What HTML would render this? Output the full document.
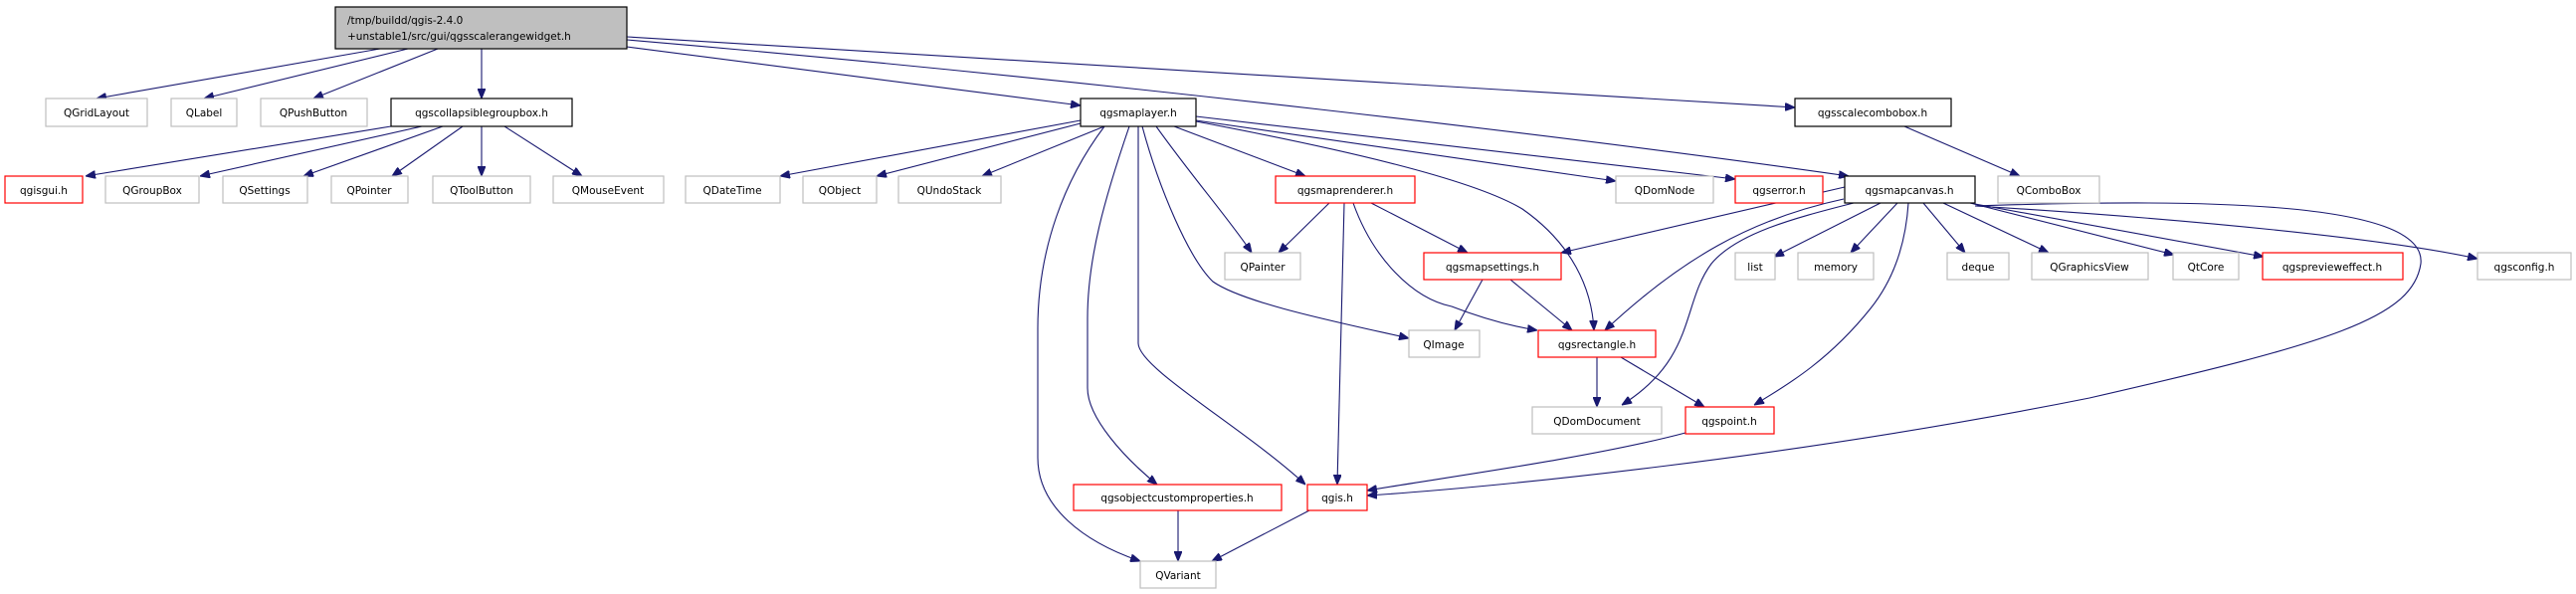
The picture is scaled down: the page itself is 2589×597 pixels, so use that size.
<!DOCTYPE html>
<html><head><meta charset="utf-8"><style>
html,body{margin:0;padding:0;background:#fff;}
svg{display:block;}
text{font-family:"DejaVu Sans","Liberation Sans",sans-serif;font-size:10.5px;fill:#000;}
.e{fill:none;stroke:#191970;stroke-width:1.1;}
.g{fill:#fff;stroke:#bfbfbf;stroke-width:1.2;}
.r{fill:#fff;stroke:#ff0000;stroke-width:1.2;}
.b{fill:#fff;stroke:#000;stroke-width:1.2;}
</style></head><body>
<svg width="2589" height="597" viewBox="0 0 2589 597" xmlns="http://www.w3.org/2000/svg">
<defs><marker id="a" markerWidth="10" markerHeight="8" refX="10" refY="4" orient="auto" markerUnits="userSpaceOnUse"><path d="M0,0 L10,4 L0,8 z" fill="#191970" stroke="#191970"/></marker></defs>
<g marker-end="url(#a)">
<path class="e" d="M382,49 L97,99"/>
<path class="e" d="M410,49 L205,99"/>
<path class="e" d="M440,49 L315,99"/>
<path class="e" d="M484,49 L484,99"/>
<path class="e" d="M630,47 L1086,106"/>
<path class="e" d="M630,37 L1804,108"/>
<path class="e" d="M630,40 C1100,80 1600,140 1858,177"/>
<path class="e" d="M393,127 L86,177"/>
<path class="e" d="M424,127 L201,177"/>
<path class="e" d="M445,127 L305,177"/>
<path class="e" d="M465,127 L394,177"/>
<path class="e" d="M484,127 L484,177"/>
<path class="e" d="M507,127 L585,177"/>
<path class="e" d="M1086,121 L784,177"/>
<path class="e" d="M1086,124 L881,177"/>
<path class="e" d="M1110,127 L987,177"/>
<path class="e" d="M1180,127 L1312,177"/>
<path class="e" d="M1162,127 C1200,180 1235,220 1258,254"/>
<path class="e" d="M1110,127 C1070,180 1043,250 1043,330 L1043,460 C1043,510 1090,545 1146,564"/>
<path class="e" d="M1135,127 C1110,200 1093,260 1093,320 L1093,390 C1093,420 1130,460 1163,487"/>
<path class="e" d="M1144,127 L1144,345 C1144,370 1250,430 1312,487"/>
<path class="e" d="M1148,127 C1165,190 1195,260 1219,283 C1250,305 1350,325 1416,340"/>
<path class="e" d="M1202,122 C1350,150 1480,180 1530,210 C1580,245 1600,290 1602,332"/>
<path class="e" d="M1202,121 L1624,182"/>
<path class="e" d="M1202,117 L1744,180"/>
<path class="e" d="M1336,204 L1285,254"/>
<path class="e" d="M1378,204 L1475,254"/>
<path class="e" d="M1351,204 L1344,487"/>
<path class="e" d="M1360,204 C1380,260 1420,300 1459,308 C1490,320 1520,328 1545,332"/>
<path class="e" d="M1490,281 L1462,332"/>
<path class="e" d="M1518,281 L1580,332"/>
<path class="e" d="M1914,127 L2030,177"/>
<path class="e" d="M1854,188 L1569,254"/>
<path class="e" d="M1853,200 C1760,220 1690,260 1613,332"/>
<path class="e" d="M1863,204 C1800,220 1745,235 1720,265 C1690,305 1705,360 1630,407"/>
<path class="e" d="M1918,204 C1915,250 1900,285 1880,310 C1840,360 1800,385 1763,407"/>
<path class="e" d="M1985,207 C2200,200 2440,200 2433,265 C2425,320 2340,345 2100,400 C1800,460 1500,490 1374,498"/>
<path class="e" d="M1890,204 L1783,258"/>
<path class="e" d="M1907,204 L1860,254"/>
<path class="e" d="M1933,204 L1975,254"/>
<path class="e" d="M1953,204 L2059,254"/>
<path class="e" d="M1980,204 L2185,256"/>
<path class="e" d="M1985,205 L2275,258"/>
<path class="e" d="M1985,207 C2200,220 2400,240 2490,260"/>
<path class="e" d="M1605,359 L1605,409"/>
<path class="e" d="M1629,359 L1713,409"/>
<path class="e" d="M1694,435 C1600,460 1450,480 1374,493"/>
<path class="e" d="M1184,513 L1184,564"/>
<path class="e" d="M1316,513 L1218,564"/>
</g>
<rect x="337" y="7" width="293" height="42" fill="#bfbfbf" stroke="#000" stroke-width="1.2"/>
<text x="349" y="24">/tmp/buildd/qgis-2.4.0</text>
<text x="349" y="40">+unstable1/src/gui/qgsscalerangewidget.h</text>
<g text-anchor="middle">
<rect class="g" x="46" y="99" width="102" height="28"/><text x="97" y="117">QGridLayout</text>
<rect class="g" x="172" y="99" width="66" height="28"/><text x="205" y="117">QLabel</text>
<rect class="g" x="262" y="99" width="107" height="28"/><text x="315" y="117">QPushButton</text>
<rect class="b" x="393" y="99" width="182" height="28"/><text x="484" y="117">qgscollapsiblegroupbox.h</text>
<rect class="b" x="1086" y="99" width="116" height="28"/><text x="1144" y="117">qgsmaplayer.h</text>
<rect class="b" x="1804" y="99" width="157" height="28"/><text x="1882" y="117">qgsscalecombobox.h</text>
<rect class="r" x="5" y="177" width="78" height="27"/><text x="44" y="195">qgisgui.h</text>
<rect class="g" x="106" y="177" width="94" height="27"/><text x="153" y="195">QGroupBox</text>
<rect class="g" x="224" y="177" width="85" height="27"/><text x="266" y="195">QSettings</text>
<rect class="g" x="333" y="177" width="77" height="27"/><text x="371" y="195">QPointer</text>
<rect class="g" x="435" y="177" width="98" height="27"/><text x="484" y="195">QToolButton</text>
<rect class="g" x="556" y="177" width="111" height="27"/><text x="611" y="195">QMouseEvent</text>
<rect class="g" x="689" y="177" width="95" height="27"/><text x="736" y="195">QDateTime</text>
<rect class="g" x="807" y="177" width="74" height="27"/><text x="844" y="195">QObject</text>
<rect class="g" x="903" y="177" width="103" height="27"/><text x="954" y="195">QUndoStack</text>
<rect class="r" x="1282" y="177" width="140" height="27"/><text x="1352" y="195">qgsmaprenderer.h</text>
<rect class="g" x="1624" y="177" width="98" height="27"/><text x="1673" y="195">QDomNode</text>
<rect class="r" x="1744" y="177" width="88" height="27"/><text x="1788" y="195">qgserror.h</text>
<rect class="b" x="1854" y="177" width="131" height="27"/><text x="1919" y="195">qgsmapcanvas.h</text>
<rect class="g" x="2008" y="177" width="102" height="27"/><text x="2059" y="195">QComboBox</text>
<rect class="g" x="1231" y="254" width="76" height="27"/><text x="1269" y="272">QPainter</text>
<rect class="r" x="1431" y="254" width="138" height="27"/><text x="1500" y="272">qgsmapsettings.h</text>
<rect class="g" x="1744" y="254" width="40" height="27"/><text x="1764" y="272">list</text>
<rect class="g" x="1807" y="254" width="76" height="27"/><text x="1845" y="272">memory</text>
<rect class="g" x="1957" y="254" width="62" height="27"/><text x="1988" y="272">deque</text>
<rect class="g" x="2042" y="254" width="117" height="27"/><text x="2100" y="272">QGraphicsView</text>
<rect class="g" x="2184" y="254" width="66" height="27"/><text x="2217" y="272">QtCore</text>
<rect class="r" x="2274" y="254" width="141" height="27"/><text x="2344" y="272">qgspreviewеffect.h</text>
<rect class="g" x="2490" y="254" width="94" height="27"/><text x="2537" y="272">qgsconfig.h</text>
<rect class="g" x="1416" y="332" width="71" height="27"/><text x="1451" y="350">QImage</text>
<rect class="r" x="1546" y="332" width="118" height="27"/><text x="1605" y="350">qgsrectangle.h</text>
<rect class="g" x="1540" y="409" width="130" height="27"/><text x="1605" y="427">QDomDocument</text>
<rect class="r" x="1694" y="409" width="89" height="27"/><text x="1738" y="427">qgspoint.h</text>
<rect class="r" x="1079" y="487" width="209" height="26"/><text x="1183" y="504">qgsobjectcustomproperties.h</text>
<rect class="r" x="1314" y="487" width="60" height="26"/><text x="1344" y="504">qgis.h</text>
<rect class="g" x="1146" y="564" width="76" height="27"/><text x="1184" y="582">QVariant</text>
</g>
</svg>
</body></html>
